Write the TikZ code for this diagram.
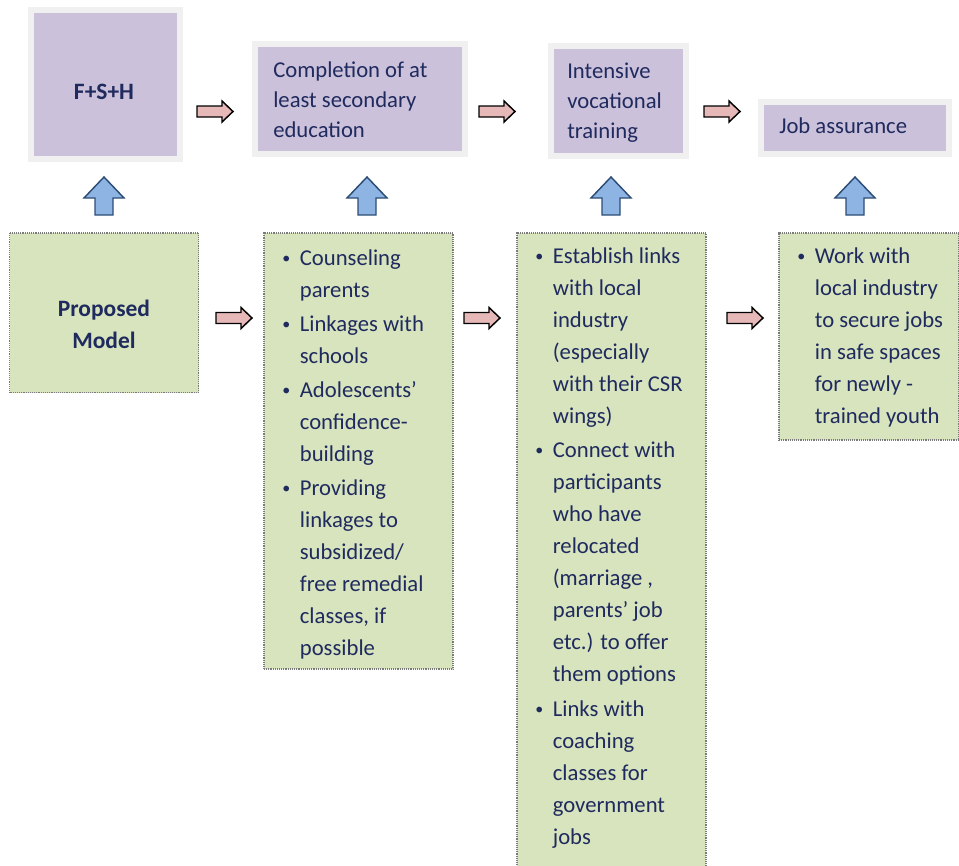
\documentclass[tikz,border=0pt]{standalone}
\usepackage{fontspec}
\setmainfont{Carlito}
\usetikzlibrary{fit}
\definecolor{ink}{HTML}{1F2A5E}
\definecolor{lilac}{HTML}{CCC1DA}
\definecolor{frame}{HTML}{F0F0F0}
\definecolor{sage}{HTML}{D7E4BD}
\definecolor{dotline}{HTML}{7A7A7A}
\definecolor{rose}{HTML}{E6B9B8}
\definecolor{sky}{HTML}{8EB4E3}
\definecolor{skyline}{HTML}{2C4D75}
\newcommand{\dotmark}{\raisebox{1.3pt}{\fontsize{12}{12}\selectfont\textbullet}}
\begin{document}
\begin{tikzpicture}[x=0.75pt,y=-0.75pt,
  stagebox/.style={draw=frame,line width=4.5pt,fill=lilac,inner sep=0pt},
  notebox/.style={draw=dotline,line width=0.9pt,dash pattern=on 0.7pt off 0.7pt,fill=sage,inner sep=0pt},
  stagetext/.style={text=ink,inner sep=0pt,anchor=base west,font=\fontsize{17}{22.8}\selectfont},
  listtext/.style={text=ink,inner sep=0pt,anchor=base west,font=\fontsize{17}{24}\selectfont},
  headtext/.style={text=ink,inner sep=0pt,anchor=base,align=center,font=\fontsize{17.6}{24}\selectfont\bfseries},
  nextarrow/.pic={\draw[fill=rose,draw=black,line width=1.1pt,line join=miter]
      (0,-5.5) -- (25,-5.5) -- (25,-10.5) -- (36,0) -- (25,10.5) -- (25,5.5) -- (0,5.5) -- cycle;},
  feedarrow/.pic={\draw[fill=sky,draw=skyline,line width=1.1pt,line join=miter]
      (0,0) -- (20,21) -- (9,21) -- (9,38) -- (-9,38) -- (-9,21) -- (-20,21) -- cycle;}]
\useasboundingbox (0,0) rectangle (959,865);
\clip (0,0) rectangle (959,865);

% stages along the top
\node[stagebox,fit={(31,10) (180,159)}] (s1) {};
\node[stagebox,fit={(255,44) (465,154)}] (s2) {};
\node[stagebox,fit={(551,46) (686,156)}] (s3) {};
\node[stagebox,fit={(761,102) (949,154)}] (s4) {};

\node[headtext] (s1t) at (104,99) {F+S+H};
\node[stagetext] (s2t) at (273,77) {\begin{tabular}[t]{@{}l@{}}Completion of at\\least secondary\\education\end{tabular}};
\node[stagetext] (s3t) at (567,78) {\begin{tabular}[t]{@{}l@{}}Intensive\\vocational\\training\end{tabular}};
\node[stagetext] (s4t) at (779,133) {Job assurance};

% supporting activities below
\node[notebox,fit={(9.5,233) (198.5,392.5)}] (g1) {};
\node[notebox,fit={(264,233) (453,669)}] (g2) {};
\node[notebox,fit={(517,233) (706,880)}] (g3) {};
\node[notebox,fit={(779,233) (958.5,440)}] (g4) {};

\node[headtext] (g1t) at (104,348) {Proposed\\Model};

\node[listtext] (g2t) at (282,265) {\begin{tabular}[t]{@{}p{13.2pt}@{}l@{}}
\dotmark & Counseling\\ & parents\\[1.5pt]
\dotmark & Linkages with\\ & schools\\[1.5pt]
\dotmark & Adolescents’\\ & confidence-\\ & building\\[1.5pt]
\dotmark & Providing\\ & linkages to\\ & subsidized/\\ & free remedial\\ & classes, if\\ & possible
\end{tabular}};

\node[listtext] (g3t) at (535,263) {\begin{tabular}[t]{@{}p{13.2pt}@{}l@{}}
\dotmark & Establish links\\ & with local\\ & industry\\ & (especially\\ & with their CSR\\ & wings)\\[2pt]
\dotmark & Connect with\\ & participants\\ & who have\\ & relocated\\ & (marriage ,\\ & parents’ job\\ & etc.) to offer\\ & them options\\[2pt]
\dotmark & Links with\\ & coaching\\ & classes for\\ & government\\ & jobs
\end{tabular}};

\node[listtext] (g4t) at (797,263) {\begin{tabular}[t]{@{}p{13.2pt}@{}l@{}}
\dotmark & Work with\\ & local industry\\ & to secure jobs\\ & in safe spaces\\ & for newly -\\ & trained youth
\end{tabular}};

% flow arrows between stages
\pic at (197,111.5) {nextarrow};
\pic at (479,111.5) {nextarrow};
\pic at (704,111.5) {nextarrow};
\pic at (216,318) {nextarrow};
\pic at (464,318) {nextarrow};
\pic at (727,318) {nextarrow};

% activities feeding each stage
\pic at (104,177) {feedarrow};
\pic at (367,177) {feedarrow};
\pic at (611,177) {feedarrow};
\pic at (855,177) {feedarrow};
\end{tikzpicture}
\end{document}
